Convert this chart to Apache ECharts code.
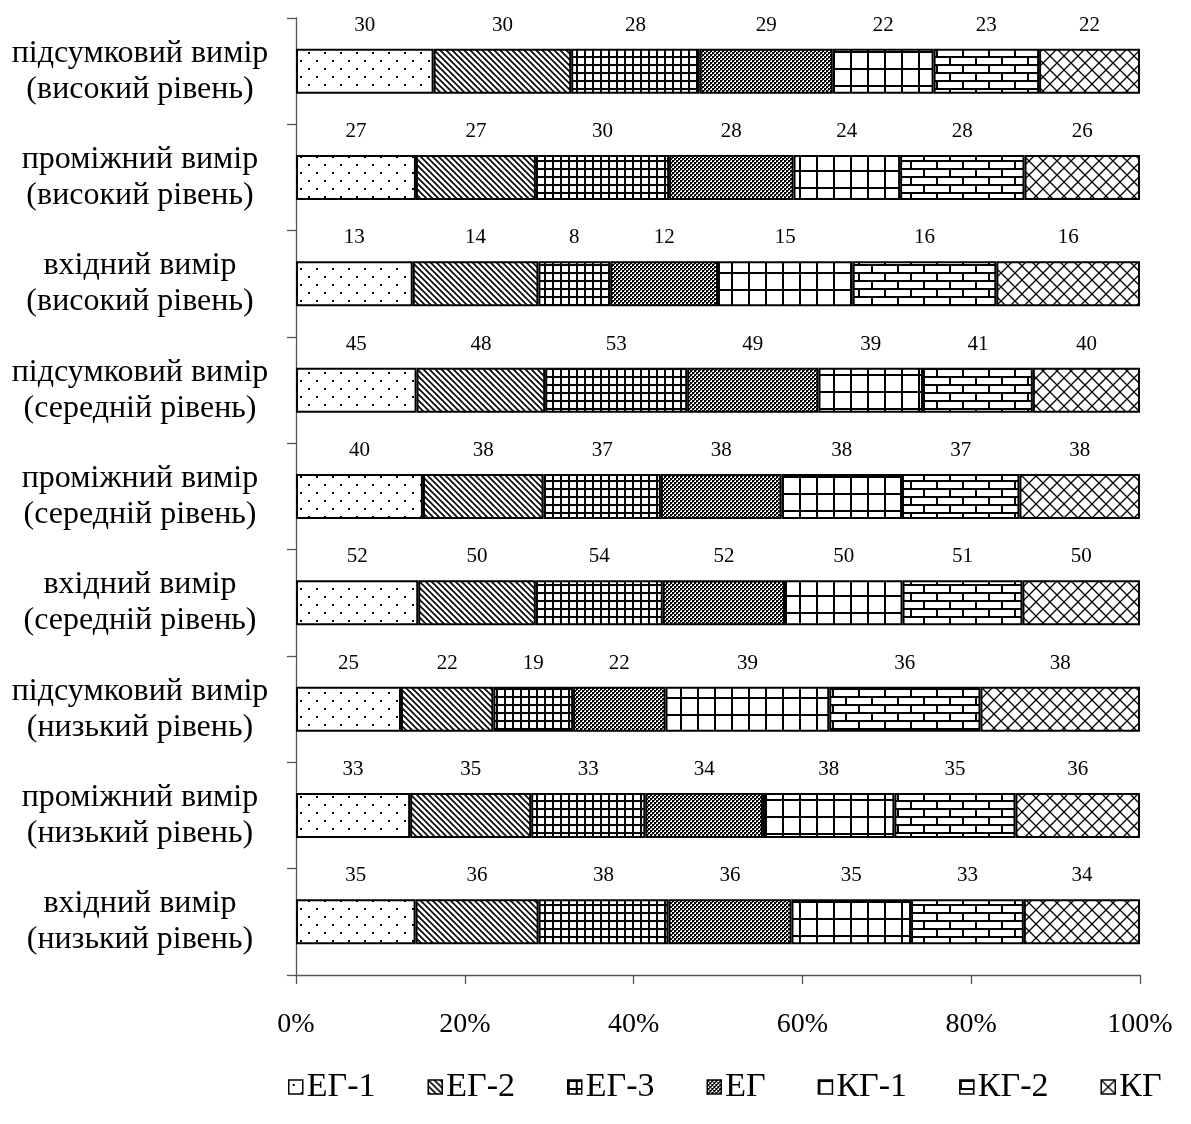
<!DOCTYPE html>
<html><head><meta charset="utf-8">
<script src="https://cdn.jsdelivr.net/npm/echarts@6/dist/echarts.min.js"></script>
<style>html,body{margin:0;padding:0;background:#fff}#c{width:1191px;height:1124px}</style>
</head><body><div id="c"></div>
<script>
const categories = [
  'вхідний вимір\n(низький рівень)',
  'проміжний вимір\n(низький рівень)',
  'підсумковий вимір\n(низький рівень)',
  'вхідний вимір\n(середній рівень)',
  'проміжний вимір\n(середній рівень)',
  'підсумковий вимір\n(середній рівень)',
  'вхідний вимір\n(високий рівень)',
  'проміжний вимір\n(високий рівень)',
  'підсумковий вимір\n(високий рівень)'
];
const seriesNames = ['ЕГ-1','ЕГ-2','ЕГ-3','ЕГ','КГ-1','КГ-2','КГ'];
const eg1 = [35,33,25,52,40,45,13,27,30];
const eg2 = [36,35,22,50,38,48,14,27,30];
const eg3 = [38,33,19,54,37,53,8,30,28];
const eg  = [36,34,22,52,38,49,12,28,29];
const kg1 = [35,38,39,50,38,39,15,24,22];
const kg2 = [33,35,36,51,37,41,16,28,23];
const kg  = [34,36,38,50,38,40,16,26,22];
const xTicks = [0,20,40,60,80,100];

const values = [eg1,eg2,eg3,eg,kg1,kg2,kg];
const totals = categories.map((_,i)=>values.reduce((s,a)=>s+a[i],0));

function tile(w,h,draw){
  const c=document.createElement('canvas');c.width=w;c.height=h;
  const g=c.getContext('2d');g.fillStyle='#fff';g.fillRect(0,0,w,h);
  g.fillStyle='#000';g.strokeStyle='#000';draw(g,w,h);return c;
}
const patterns = [
  tile(16,16,g=>{g.fillRect(4,4,2,2);g.fillRect(12,12,2,2);}),
  tile(6,6,g=>{g.lineWidth=1.6;g.beginPath();g.moveTo(-1,-1);g.lineTo(7,7);g.moveTo(-1,5);g.lineTo(1,7);g.moveTo(5,-1);g.lineTo(7,1);g.stroke();}),
  tile(8,8,g=>{g.fillRect(0,0,8,2);g.fillRect(0,0,2,8);}),
  tile(4,4,g=>{g.fillRect(0,0,2,2);g.fillRect(2,2,2,2);g.fillStyle='#444';g.fillRect(2,0,1,1);g.fillRect(0,2,1,1);}),
  tile(17,17,g=>{g.fillRect(0,0,17,2);g.fillRect(0,0,2,17);}),
  tile(26,16,g=>{g.fillRect(0,0,26,2);g.fillRect(0,8,26,2);g.fillRect(0,0,2,8);g.fillRect(13,8,2,8);}),
  tile(14,14,g=>{g.lineWidth=1.3;g.beginPath();g.moveTo(0,0);g.lineTo(14,14);g.moveTo(14,0);g.lineTo(0,14);g.stroke();})
];

const font = 'Liberation Serif, Times New Roman, serif';
const series = seriesNames.map((name,k)=>({
  name, type:'bar', stack:'all', barWidth:45,
  data: values[k].map((v,i)=>({value: v/totals[i]*100, raw: v})),
  itemStyle:{color:{image:patterns[k],repeat:'repeat'},borderColor:'#000',borderWidth:2},
  label:{show:true,position:'top',distance:13,color:'#000',fontFamily:font,fontSize:21,
    formatter:p=>String(p.data.raw)},
  emphasis:{disabled:true}
}));

const chart = echarts.init(document.getElementById('c'),null,{renderer:'canvas'});
chart.setOption({
  animation:false,
  backgroundColor:'#fff',
  grid:{left:296,right:51,top:18,bottom:149,containLabel:false},
  xAxis:{type:'value',min:xTicks[0],max:xTicks[xTicks.length-1],interval:20,
    axisLine:{show:true,lineStyle:{color:'#555',width:1.3}},
    axisTick:{show:true,length:9,lineStyle:{color:'#555',width:1.3}},
    splitLine:{show:false},
    axisLabel:{formatter:'{value}%',color:'#000',fontFamily:font,fontSize:28,margin:36}},
  yAxis:{type:'category',data:categories,
    axisLine:{show:true,lineStyle:{color:'#555',width:1.3}},
    axisTick:{show:true,length:9,lineStyle:{color:'#555',width:1.3}},
    axisLabel:{color:'#000',fontFamily:font,fontSize:32,lineHeight:36,align:'center',margin:156}},
  legend:{top:1065,left:283,itemWidth:14,itemHeight:14,itemGap:52,icon:'rect',
    itemStyle:{borderColor:'#000',borderWidth:1.5},
    textStyle:{color:'#000',fontFamily:font,fontSize:34,padding:[0,0,0,-1]},
    data:seriesNames},
  series
});
</script></body></html>
